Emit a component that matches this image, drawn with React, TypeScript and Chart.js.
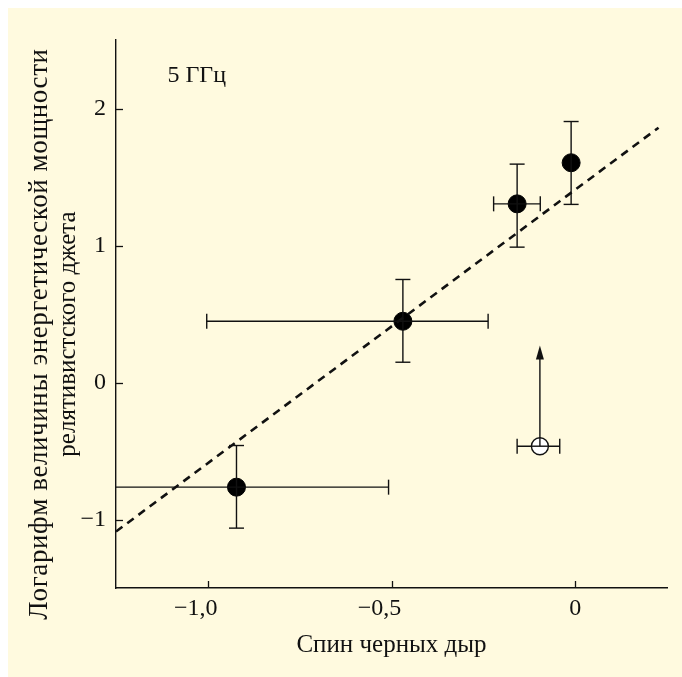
import React, { useEffect, useRef } from "react";
import { Chart, registerables } from "chart.js";

Chart.register(...registerables);

// ---- data ----
const spinX = [-0.922, -0.469, -0.158, -0.011];
const powerY = [-0.764, 0.447, 1.304, 1.604];
const xErrLow = [-1.3, -1.003, -0.222, -0.011];
const xErrHigh = [-0.508, -0.237, -0.095, -0.011];
const yErrLow = [-1.063, 0.148, 0.988, 1.3];
const yErrHigh = [-0.46, 0.752, 1.594, 1.905];

const openX = [-0.096];
const openY = [-0.465];
const openXLow = [-0.158];
const openXHigh = [-0.042];
const openArrowTo = [0.27];

const fitX = [-1.25, 0.227];
const fitY = [-1.088, 1.86];

const xTickValues = [-1, -0.5, 0];
const xTickLabels = ["\u22121,0\u2003", "\u22120,5\u2003", "0"];
const yTickValues = [-1, 0, 1, 2];
const yTickLabels = ["\u22121", "0", "1", "2"];

const xTitle = "Спин черных дыр";
const yTitle1 = "Логарифм величины энергетической мощности";
const yTitle2 = "релятивистского джета";
const freqLabel = "5 ГГц";

const BG = "#fffadf";
const INK = "#111";
const FONT = "'Liberation Serif', 'DejaVu Serif', serif";

export default function App() {
  const ref = useRef<HTMLCanvasElement | null>(null);

  useEffect(() => {
    const canvas = ref.current!;
    const overlay = {
      id: "overlay",
      afterDatasetsDraw(chart: any) {
        const ctx = chart.ctx as CanvasRenderingContext2D;
        const xs = chart.scales.x;
        const ys = chart.scales.y;
        const a = chart.chartArea;
        ctx.save();
        ctx.beginPath();
        ctx.rect(a.left, a.top - 5, a.right - a.left + 5, a.bottom - a.top + 5);
        ctx.clip();
        ctx.strokeStyle = INK;
        ctx.lineWidth = 1.4;
        const cap = 7.5;
        const seg = (x1: number, y1: number, x2: number, y2: number) => {
          ctx.beginPath();
          ctx.moveTo(x1, y1);
          ctx.lineTo(x2, y2);
          ctx.stroke();
        };
        for (let i = 0; i < spinX.length; i++) {
          const px = xs.getPixelForValue(spinX[i]);
          const py = ys.getPixelForValue(powerY[i]);
          const yl = ys.getPixelForValue(yErrLow[i]);
          const yh = ys.getPixelForValue(yErrHigh[i]);
          seg(px, yl, px, yh);
          seg(px - cap, yl, px + cap, yl);
          seg(px - cap, yh, px + cap, yh);
          const xl = xs.getPixelForValue(xErrLow[i]);
          const xh = xs.getPixelForValue(xErrHigh[i]);
          if (Math.abs(xh - xl) > 1) {
            seg(xl, py, xh, py);
            seg(xl, py - cap, xl, py + cap);
            seg(xh, py - cap, xh, py + cap);
          }
        }
        for (let i = 0; i < openX.length; i++) {
          const px = xs.getPixelForValue(openX[i]);
          const py = ys.getPixelForValue(openY[i]);
          const xl = xs.getPixelForValue(openXLow[i]);
          const xh = xs.getPixelForValue(openXHigh[i]);
          seg(xl, py, xh, py);
          seg(xl, py - cap, xl, py + cap);
          seg(xh, py - cap, xh, py + cap);
          const tip = ys.getPixelForValue(openArrowTo[i]);
          ctx.beginPath();
          ctx.arc(px, py, 8.5, 0, Math.PI * 2);
          ctx.fillStyle = "#ffffff";
          ctx.fill();
          ctx.stroke();
          seg(px - 8.5, py, px + 8.5, py);
          seg(px, py, px, tip + 12);
          ctx.beginPath();
          ctx.moveTo(px, tip);
          ctx.lineTo(px - 4, tip + 14);
          ctx.lineTo(px + 4, tip + 14);
          ctx.closePath();
          ctx.fillStyle = INK;
          ctx.fill();
        }
        ctx.restore();

        // inward tick marks
        ctx.save();
        ctx.strokeStyle = INK;
        ctx.lineWidth = 1.3;
        for (const v of xTickValues) {
          const px = Math.round(xs.getPixelForValue(v)) + 0.5;
          seg(px, a.bottom, px, a.bottom - 7);
        }
        for (const v of yTickValues) {
          const py = Math.round(ys.getPixelForValue(v)) + 0.5;
          seg(a.left, py, a.left + 7, py);
        }
        // texts
        ctx.fillStyle = INK;
        ctx.font = `24px ${FONT}`;
        ctx.textAlign = "left";
        ctx.textBaseline = "middle";
        ctx.fillText(freqLabel, xs.getPixelForValue(-1.11), ys.getPixelForValue(2.24));
        ctx.font = `25px ${FONT}`;
        ctx.textAlign = "center";
        ctx.fillText(xTitle, (a.left + a.right) / 2, 637);
        ctx.save();
        ctx.translate(32, 326);
        ctx.rotate(-Math.PI / 2);
        ctx.font = `27px ${FONT}`;
        (ctx as any).letterSpacing = "0.6px";
        ctx.fillText(yTitle1, 0, 0);
        (ctx as any).letterSpacing = "0px";
        ctx.font = `25px ${FONT}`;
        ctx.fillText(yTitle2, 0, 28);
        ctx.restore();
        ctx.restore();
      },
    };

    const chart = new Chart(canvas, {
      type: "scatter",
      data: {
        datasets: [
          {
            type: "line",
            data: fitX.map((x, i) => ({ x, y: fitY[i] })),
            borderColor: INK,
            borderWidth: 2.6,
            borderDash: [8, 6],
            pointRadius: 0,
            fill: false,
          } as any,
          {
            data: spinX.map((x, i) => ({ x, y: powerY[i] })),
            backgroundColor: "#000",
            borderColor: "#000",
            pointRadius: 9,
            pointHoverRadius: 9,
          },
        ],
      },
      options: {
        responsive: false,
        animation: false,
        events: [],
        layout: { padding: { left: 0, top: 32, right: 15, bottom: 0 } },
        plugins: {
          legend: { display: false },
          tooltip: { enabled: false },
        },
        scales: {
          x: {
            type: "linear",
            min: -1.25,
            max: 0.25,
            afterFit(scale: any) {
              scale.height = 89;
            },
            afterBuildTicks(scale: any) {
              scale.ticks = xTickValues.map((v) => ({ value: v }));
            },
            grid: { display: true, drawOnChartArea: false, drawTicks: false },
            border: { display: true, color: INK, width: 1.4 },
            ticks: {
              padding: 6,
              color: INK,
              font: { family: FONT, size: 24 },
              callback: (v: any) => {
                const i = xTickValues.findIndex((t) => Math.abs(t - Number(v)) < 1e-9);
                return i >= 0 ? xTickLabels[i] : "";
              },
            },
          },
          y: {
            type: "linear",
            min: -1.5,
            max: 2.5,
            afterFit(scale: any) {
              scale.width = 108;
            },
            afterBuildTicks(scale: any) {
              scale.ticks = yTickValues.map((v) => ({ value: v }));
            },
            grid: { display: true, drawOnChartArea: false, drawTicks: false },
            border: { display: true, color: INK, width: 1.4 },
            ticks: {
              padding: 10,
              color: INK,
              font: { family: FONT, size: 24 },
              callback: (v: any) => {
                const i = yTickValues.findIndex((t) => Math.abs(t - Number(v)) < 1e-9);
                return i >= 0 ? yTickLabels[i] : "";
              },
            },
          },
        },
      },
      plugins: [overlay],
    });
    return () => chart.destroy();
  }, []);

  return (
    <div style={{ position: "fixed", left: 8, top: 8, right: 0, bottom: 0, background: BG, overflow: "hidden" }}>
      <canvas ref={ref} width={674} height={669} style={{ display: "block" }} />
    </div>
  );
}
